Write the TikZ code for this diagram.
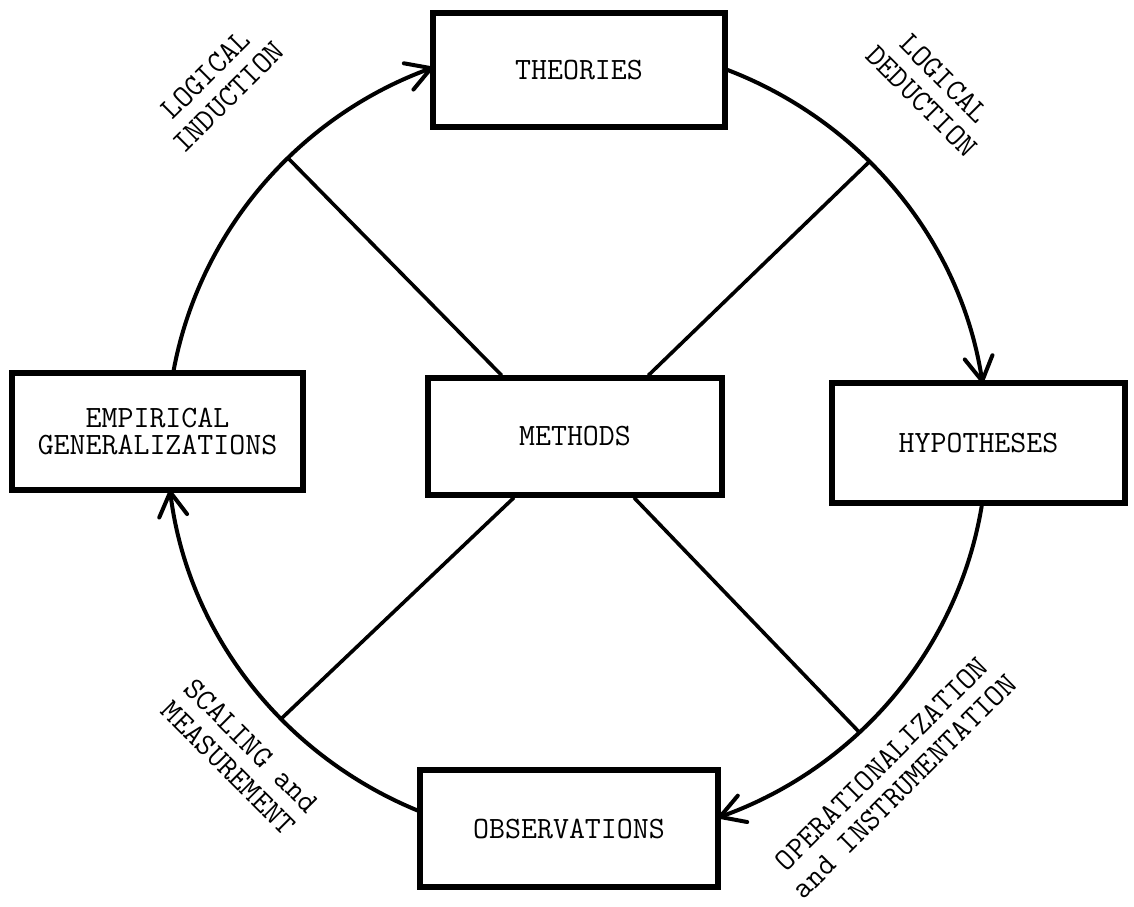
\documentclass[tikz,border=0pt]{standalone}
\usepackage{fontspec}
\usetikzlibrary{arrows.meta,calc}
\begin{document}
\begin{tikzpicture}[x=0.5pt,y=-0.5pt,
  box/.style={draw,line width=2.6pt,inner sep=0pt,align=center,font=\ttfamily\fontsize{15.5}{16}\selectfont},
  lbl/.style={align=center,inner sep=0pt,font=\ttfamily\fontsize{15.5}{16}\selectfont},
  cyc/.style={line width=2pt,line cap=round,-{Straight Barb[length=12pt,width=14pt,line width=2pt,round]}},
  spoke/.style={line width=1.8pt}]
\useasboundingbox (0,0) rectangle (1134,906);
% boxes
\node[box,minimum width=146pt,minimum height=57pt] (theo) at (579,70) {THEORIES};
\node[box,minimum width=146.5pt,minimum height=60pt] (hyp) at (978.5,443) {HYPOTHESES};
\node[box,minimum width=145.5pt,minimum height=58.5pt] (emp) at (157.5,431.5) {EMPIRICAL\\[-2.5pt]GENERALIZATIONS};
\node[box,minimum width=149pt,minimum height=58.5pt] (obs) at (569,828.5) {OBSERVATIONS};
\node[box,minimum width=147pt,minimum height=58.5pt] (meth) at (575,436.5) {METHODS};
% circle centre and points on it
\coordinate (C) at (577,442);
\coordinate (a1) at ($(C)+(189.93:410 and 400)$);
\coordinate (a2) at ($(C)+(291.16:410 and 400)$);
\coordinate (a3) at ($(C)+(8.77:410 and 400)$);
\coordinate (a4) at ($(C)+(112.51:410 and 400)$);
% cycle arcs
\draw[cyc] (a1) arc[start angle=189.93,end angle=249.44,x radius=410,y radius=400];
\draw[cyc] (a2) arc[start angle=291.16,end angle=351.52,x radius=410,y radius=400];
\draw[cyc] (a3) arc[start angle=8.77,end angle=69.88,x radius=410,y radius=400];
\draw[cyc] (a4) arc[start angle=112.51,end angle=173.11,x radius=410,y radius=400];
% spokes
\coordinate (s1) at ($(C)+(225.2:410 and 400)$);
\coordinate (s2) at ($(C)+(315.5:410 and 400)$);
\coordinate (s3) at ($(C)+(136.2:410 and 400)$);
\coordinate (s4) at ($(C)+(46.5:410 and 400)$);
\draw[spoke] ($(meth.north west)!0.255!(meth.north east)$) -- (s1);
\draw[spoke] ($(meth.north west)!0.745!(meth.north east)$) -- (s2);
\draw[spoke] ($(meth.south west)!0.296!(meth.south east)$) -- (s3);
\draw[spoke] ($(meth.south west)!0.697!(meth.south east)$) -- (s4);
% labels
\node[lbl,rotate=45] (li) at (217,86) {LOGICAL\\INDUCTION};
\node[lbl,rotate=-45] (ld) at (933,90) {LOGICAL\\DEDUCTION};
\node[lbl,rotate=-45] (sm) at (240,757) {SCALING and\\MEASUREMENT};
\node[lbl,rotate=45] (oi) at (893,775) {OPERATIONALIZATION\\and INSTRUMENTATION};
\end{tikzpicture}
\end{document}
